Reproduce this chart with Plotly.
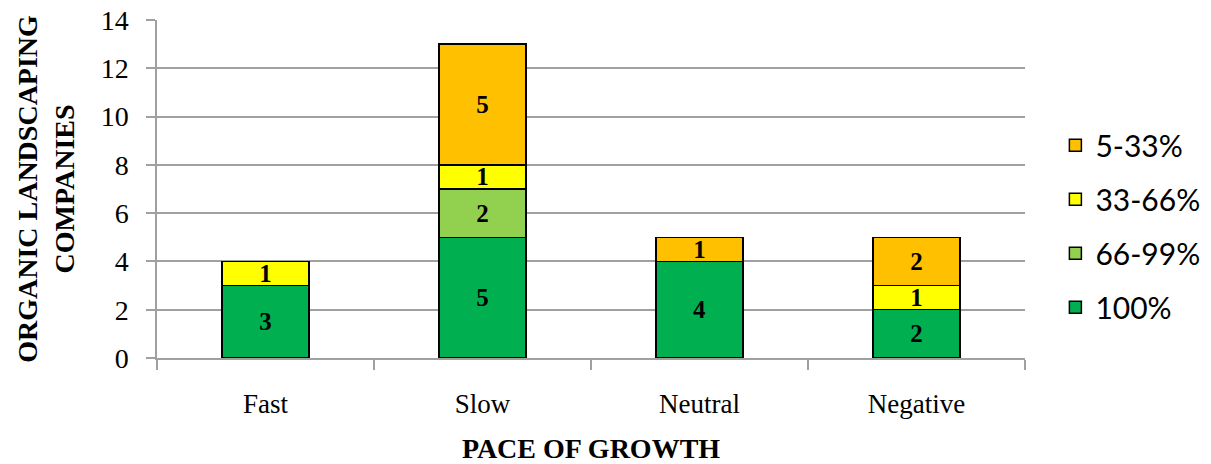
import plotly.graph_objects as go

# Pace-of-growth categories and company counts per organic-share band
categories = ["Fast", "Slow", "Neutral", "Negative"]
share_100 = [3, 5, 4, 2]
share_66_99 = [0, 2, 0, 0]
share_33_66 = [1, 1, 0, 1]
share_5_33 = [0, 5, 1, 2]

series = [
    ("100%", share_100, "#00B050", 4),
    ("66-99%", share_66_99, "#92D050", 3),
    ("33-66%", share_33_66, "#FFFF00", 2),
    ("5-33%", share_5_33, "#FFC000", 1),
]

serif = "Liberation Serif, DejaVu Serif, serif"
sans = "Lato, Open Sans, Liberation Sans, sans-serif"

fig = go.Figure()
for name, vals, color, rank in series:
    fig.add_trace(go.Bar(
        name=name,
        x=categories,
        y=vals,
        marker=dict(color=color, line=dict(color="black", width=1.5)),
        text=[str(v) if v else "" for v in vals],
        textposition="inside",
        insidetextanchor="middle",
        textangle=0,
        constraintext="none",
        textfont=dict(family=serif, size=25, color="black", weight="bold"),
        legendgroup=name,
        legendrank=rank,
        width=0.4,
    ))

fig.update_layout(
    barmode="stack",
    width=1211,
    height=464,
    margin=dict(l=157, r=186, t=20, b=106, autoexpand=False),
    plot_bgcolor="white",
    paper_bgcolor="white",
    showlegend=True,
    legend=dict(
        traceorder="grouped",
        tracegroupgap=12,
        x=1.035, xanchor="left",
        y=0.39, yanchor="middle",
        font=dict(family=sans, size=30, color="black"),
        itemwidth=30,
    ),
    xaxis=dict(
        type="category",
        automargin=False,
        tickson="boundaries",
        ticks="outside",
        ticklen=10,
        tickcolor="#A0A0A0",
        tickwidth=1.5,
        ticklabelstandoff=21,
        showgrid=False,
        showline=True,
        linecolor="#A0A0A0",
        linewidth=1.5,
        tickfont=dict(family=serif, size=27, color="black"),
        title=dict(text="PACE OF GROWTH",
                   font=dict(family=serif, size=28, color="black", weight="bold"),
                   standoff=20),
    ),
    yaxis=dict(
        range=[0, 14],
        dtick=2,
        automargin=False,
        ticks="outside",
        ticklen=9,
        tickcolor="#A0A0A0",
        tickwidth=1.5,
        ticklabelstandoff=12,
        showgrid=True,
        gridcolor="#A0A0A0",
        gridwidth=1.5,
        showline=True,
        linecolor="#A0A0A0",
        linewidth=1.5,
        zeroline=False,
        tickfont=dict(family=serif, size=28, color="black"),
        title=dict(text="ORGANIC LANDSCAPING<br>COMPANIES",
                   font=dict(family=serif, size=28, color="black", weight="bold"),
                   standoff=18),
    ),
)

fig.write_html("out.html")
